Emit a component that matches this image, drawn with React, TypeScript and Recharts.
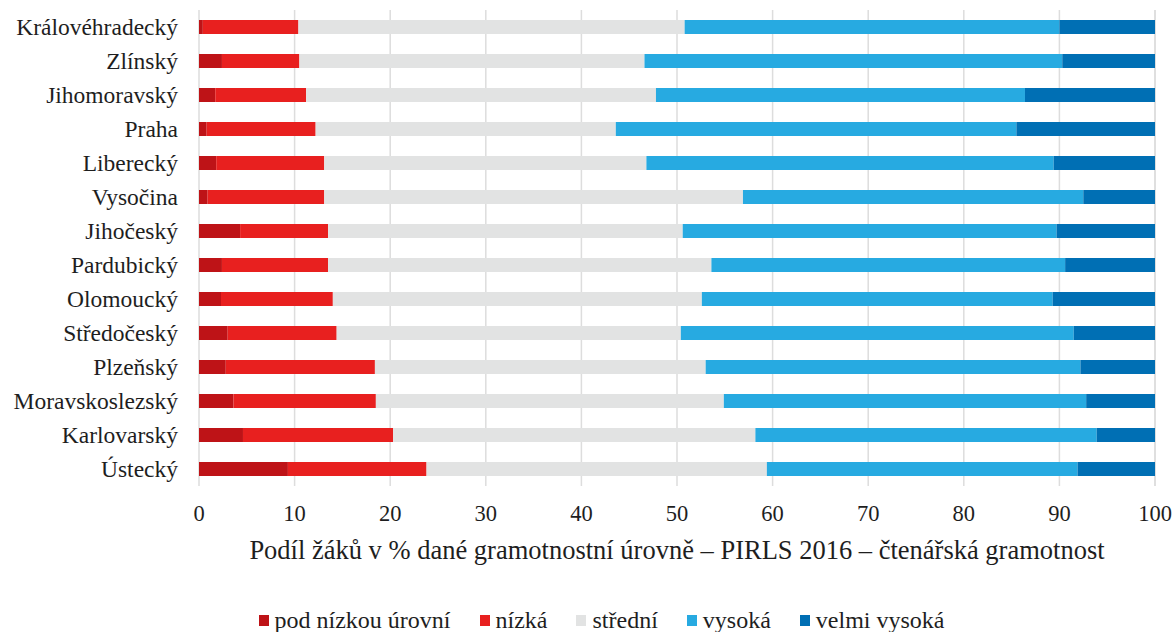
import React from 'react';
import { BarChart, Bar, XAxis, YAxis, CartesianGrid, Legend } from 'recharts';

const regions = ['Královéhradecký', 'Zlínský', 'Jihomoravský', 'Praha', 'Liberecký', 'Vysočina', 'Jihočeský', 'Pardubický', 'Olomoucký', 'Středočeský', 'Plzeňský', 'Moravskoslezský', 'Karlovarský', 'Ústecký'];
const podNizkou = [0.4, 2.4, 1.7, 0.8, 1.8, 0.9, 4.3, 2.4, 2.3, 3.0, 2.8, 3.6, 4.6, 9.3];
const nizka = [10.0, 8.1, 9.5, 11.4, 11.3, 12.2, 9.2, 11.1, 11.7, 11.4, 15.6, 14.9, 15.7, 14.5];
const stredni = [40.4, 36.1, 36.6, 31.4, 33.7, 43.8, 37.1, 40.1, 38.6, 36.0, 34.6, 36.4, 37.9, 35.6];
const vysoka = [39.2, 43.7, 38.6, 41.9, 42.6, 35.6, 39.1, 37.0, 36.7, 41.1, 39.2, 37.9, 35.7, 32.5];
const velmiVysoka = [10.0, 9.7, 13.6, 14.5, 10.6, 7.5, 10.3, 9.4, 10.7, 8.5, 7.8, 7.2, 6.1, 8.1];
const xTicks = [0, 10, 20, 30, 40, 50, 60, 70, 80, 90, 100];

const seriesKeys = ['podNizkou', 'nizka', 'stredni', 'vysoka', 'velmiVysoka'];
const seriesNames = ['pod nízkou úrovní', 'nízká', 'střední', 'vysoká', 'velmi vysoká'];
const seriesColors = ['#BE1317', '#E8201F', '#E2E3E3', '#27AAE1', '#006FB4'];

const data = regions.map((name, i) => ({
  name,
  podNizkou: podNizkou[i],
  nizka: nizka[i],
  stredni: stredni[i],
  vysoka: vysoka[i],
  velmiVysoka: velmiVysoka[i],
}));

const FONT = '"Liberation Serif", "Times New Roman", serif';

const LegendContent = () => (
  <div style={{ height: 60, position: 'relative', fontFamily: FONT }}>
    <div style={{ position: 'absolute', top: 35, left: 0, right: 0, display: 'flex', justifyContent: 'center', paddingLeft: 48 }}>
      {seriesNames.map((n, i) => (
        <div key={n} style={{ display: 'flex', alignItems: 'center', marginRight: i < seriesNames.length - 1 ? 29 : 0 }}>
          <div style={{ width: 10, height: 11, background: seriesColors[i], marginRight: 6 }} />
          <span style={{ fontSize: 24, color: '#1e1e1e', lineHeight: '26px' }}>{n}</span>
        </div>
      ))}
    </div>
  </div>
);

export default function App() {
  return (
    <div style={{ position: 'absolute', left: 0, top: 0, width: 1175, height: 632, background: '#fff' }}>
      <BarChart
        width={1175}
        height={632}
        data={data}
        layout="vertical"
        margin={{ top: 10, right: 20, left: 0, bottom: 0 }}
        barCategoryGap={20}
      >
        <CartesianGrid horizontal={false} vertical={true} stroke="#DDDDDD" strokeWidth={1.5} />
        <XAxis
          type="number"
          domain={[0, 100]}
          ticks={xTicks}
          axisLine={false}
          tickLine={false}
          tickMargin={13}
          height={86}
          interval={0}
          tick={{ fontFamily: FONT, fontSize: 22.5, fill: '#1e1e1e' }}
          label={{ value: 'Podíl žáků v % dané gramotnostní úrovně – PIRLS 2016 – čtenářská gramotnost', position: 'insideBottom', offset: 13, style: { fontFamily: FONT, fontSize: 26.5, fill: '#1e1e1e' } }}
        />
        <YAxis
          type="category"
          dataKey="name"
          width={199}
          axisLine={false}
          tickLine={false}
          tickMargin={15}
          interval={0}
          tick={{ fontFamily: FONT, fontSize: 23.5, fill: '#1e1e1e' }}
        />
        <Legend verticalAlign="bottom" content={<LegendContent />} wrapperStyle={{ height: 60 }} />
        {seriesKeys.map((k, i) => (
          <Bar key={k} dataKey={k} name={seriesNames[i]} stackId="a" fill={seriesColors[i]} barSize={14} isAnimationActive={false} />
        ))}
      </BarChart>
    </div>
  );
}
